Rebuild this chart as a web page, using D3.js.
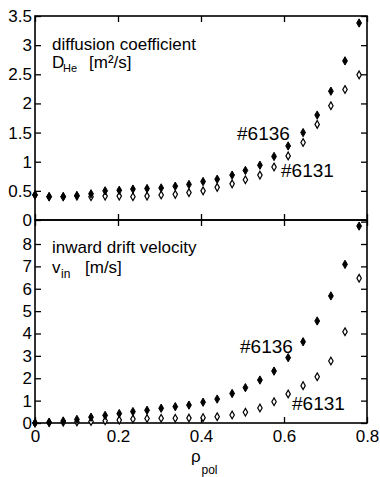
<!DOCTYPE html>
<html>
<head>
<meta charset="utf-8">
<script src="https://cdn.jsdelivr.net/npm/d3@7"></script>
<style>
  body { margin: 0; background: #fff; }
  svg { display: block; font-family: "Liberation Sans", Arial, sans-serif; }
  .axis path { display: none; }
  .axis line { stroke: #000; stroke-width: 1.3; }
  .axis text { font-size: 17px; fill: #000; }
</style>
</head>
<body>
<div id="chart-area"></div>
<script>
// data
const rho = [0, 0.034, 0.068, 0.101, 0.135, 0.169, 0.203, 0.236, 0.270, 0.304, 0.338, 0.371,
             0.405, 0.439, 0.475, 0.507, 0.542, 0.576, 0.610, 0.646, 0.680, 0.713, 0.747, 0.781];
const dHe6136 = [0.43, 0.40, 0.40, 0.42, 0.45, 0.50, 0.51, 0.53, 0.54, 0.55, 0.58, 0.61,
                 0.66, 0.70, 0.77, 0.85, 0.94, 1.09, 1.27, 1.50, 1.80, 2.21, 2.73, 3.38];
const dHe6131 = [0.43, 0.40, 0.40, 0.41, 0.40, 0.41, 0.41, 0.40, 0.41, 0.43, 0.44, 0.47,
                 0.50, 0.56, 0.62, 0.69, 0.77, 0.91, 1.10, 1.33, 1.64, 1.96, 2.24, 2.49];
const vIn6136 = [0, 0.03, 0.09, 0.16, 0.26, 0.34, 0.42, 0.51, 0.57, 0.66, 0.73, 0.80,
                 0.93, 1.07, 1.32, 1.58, 1.92, 2.32, 2.92, 3.63, 4.56, 5.68, 7.09, 8.80];
const vIn6131 = [0, 0.02, 0.03, 0.05, 0.07, 0.10, 0.13, 0.18, 0.20, 0.21, 0.21, 0.22,
                 0.24, 0.28, 0.36, 0.48, 0.67, 0.95, 1.30, 1.67, 2.07, 2.77, 4.08, 6.47];

const xTicks = [0, 0.2, 0.4, 0.6, 0.8];
const dTicks = [0, 0.5, 1, 1.5, 2, 2.5, 3, 3.5];
const vTicks = [0, 1, 2, 3, 4, 5, 6, 7, 8];

const W = 380, H = 477;
const svg = d3.select('#chart-area')
  .append('svg')
  .attr('width', W)
  .attr('height', H);

const x = d3.scaleLinear().domain([0, 0.8]).range([35, 367]);
const yTop = d3.scaleLinear().domain([0, 3.5]).range([220, 16]);
const yBot = d3.scaleLinear().domain([0, 8]).range([423, 244]);
const midY = yTop(0);
const plain = d => String(d);

// frames
svg.append('rect')
  .attr('x', x(0)).attr('y', yTop(3.5))
  .attr('width', x(0.8) - x(0)).attr('height', midY - yTop(3.5))
  .attr('fill', 'none').attr('stroke', '#000').attr('stroke-width', 1.6);
svg.append('rect')
  .attr('x', x(0)).attr('y', midY)
  .attr('width', x(0.8) - x(0)).attr('height', yBot(0) - midY)
  .attr('fill', 'none').attr('stroke', '#000').attr('stroke-width', 1.6);

// y axes, ticks pointing inward
svg.append('g').attr('class', 'axis')
  .attr('transform', `translate(${x(0)},0)`)
  .call(d3.axisLeft(yTop).tickValues(dTicks).tickSize(-6).tickPadding(3).tickFormat(plain));
svg.append('g').attr('class', 'axis')
  .attr('transform', `translate(${x(0.8)},0)`)
  .call(d3.axisRight(yTop).tickValues(dTicks).tickSize(-6).tickFormat(''));
svg.append('g').attr('class', 'axis')
  .attr('transform', `translate(${x(0)},0)`)
  .call(d3.axisLeft(yBot).tickValues(vTicks).tickSize(-6).tickPadding(3).tickFormat(plain));
svg.append('g').attr('class', 'axis')
  .attr('transform', `translate(${x(0.8)},0)`)
  .call(d3.axisRight(yBot).tickValues(vTicks.concat([9])).tickSize(-6).tickFormat(''));

// x axes
svg.append('g').attr('class', 'axis')
  .attr('transform', `translate(0,${yTop(3.5)})`)
  .call(d3.axisTop(x).tickValues(xTicks).tickSize(-6).tickFormat(''));
svg.append('g').attr('class', 'axis')
  .attr('transform', `translate(0,${midY})`)
  .call(d3.axisBottom(x).tickValues(xTicks).tickSize(6).tickFormat(''));
svg.append('g').attr('class', 'axis')
  .attr('transform', `translate(0,${midY})`)
  .call(d3.axisTop(x).tickValues(xTicks).tickSize(6).tickFormat(''));
svg.append('g').attr('class', 'axis')
  .attr('transform', `translate(0,${yBot(0)})`)
  .call(d3.axisBottom(x).tickValues(xTicks).tickSize(-6).tickPadding(7).tickFormat(plain));

// markers
const filled = d3.symbol().type(d3.symbolDiamond).size(20);
const open = d3.symbol().type(d3.symbolDiamond).size(17);

function drawSeries(vals, yScale, isFilled) {
  svg.append('g').selectAll('path')
    .data(vals)
    .join('path')
    .attr('transform', (d, i) => `translate(${x(rho[i])},${yScale(d)})`)
    .attr('d', isFilled ? filled : open)
    .attr('fill', isFilled ? '#000' : '#fff')
    .attr('stroke', '#000')
    .attr('stroke-width', isFilled ? 1 : 1.2);
}
drawSeries(dHe6131, yTop, false);
drawSeries(dHe6136, yTop, true);
drawSeries(vIn6131, yBot, false);
drawSeries(vIn6136, yBot, true);

// panel labels
const txt = (s, px, py, size) => svg.append('text')
  .attr('x', px).attr('y', py)
  .attr('font-size', size + 'px')
  .attr('fill', '#000')
  .text(s);

txt('diffusion coefficient', 52, 50, 17);
txt('D', 52, 68, 17);
txt('He', 63, 72, 11);
txt('[m²/s]', 89, 68, 17);

txt('inward drift velocity', 52, 253, 17);
txt('v', 52, 273, 17);
txt('in', 61, 278, 12);
txt('[m/s]', 85, 273, 17);

txt('#6136', 237, 140, 19);
txt('#6131', 281, 177, 19);
txt('#6136', 240, 353, 19);
txt('#6131', 292, 410, 19);

// x label
txt('ρ', 191, 462, 17);
txt('pol', 201.5, 474, 12);
</script>
</body>
</html>
